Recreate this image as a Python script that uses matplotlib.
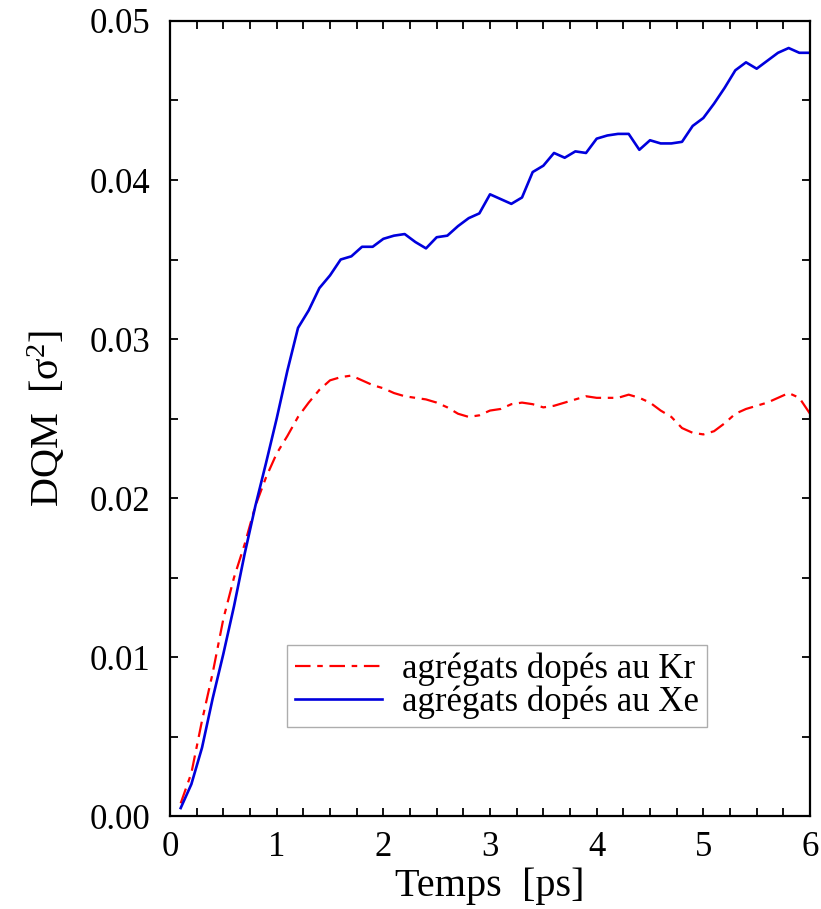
import matplotlib
matplotlib.use("Agg")
import matplotlib.pyplot as plt
from matplotlib.ticker import MultipleLocator

plt.rcParams["font.family"] = ["Liberation Serif", "DejaVu Serif"]
plt.rcParams["mathtext.fontset"] = "custom"
plt.rcParams["mathtext.rm"] = "Liberation Serif"
plt.rcParams["mathtext.it"] = "Liberation Serif:italic"

# time grid in ps
t = [round(0.1 * i, 1) for i in range(1, 61)]

dqm_kr = [
    0.0008, 0.0027, 0.0060, 0.0090, 0.0124, 0.0150, 0.0171, 0.0195, 0.0213, 0.0228,
    0.0239, 0.0251, 0.0260, 0.0268, 0.0274, 0.0276, 0.0277, 0.0274, 0.0271, 0.0269,
    0.0266, 0.0264, 0.0263, 0.0262, 0.0260, 0.0257, 0.0253, 0.0251, 0.0252, 0.0255,
    0.0256, 0.0259, 0.0260, 0.0259, 0.0257, 0.0258, 0.0260, 0.0262, 0.0264, 0.0263,
    0.0263, 0.0263, 0.0265, 0.0263, 0.0260, 0.0255, 0.0251, 0.0244, 0.0241, 0.0240,
    0.0242, 0.0247, 0.0253, 0.0256, 0.0258, 0.0260, 0.0263, 0.0266, 0.0263, 0.0253,
]

dqm_xe = [
    0.0005, 0.0020, 0.0043, 0.0074, 0.0102, 0.0132, 0.0165, 0.0195, 0.0222, 0.0250,
    0.0280, 0.0307, 0.0318, 0.0332, 0.0340, 0.0350, 0.0352, 0.0358, 0.0358, 0.0363,
    0.0365, 0.0366, 0.0361, 0.0357, 0.0364, 0.0365, 0.0371, 0.0376, 0.0379, 0.0391,
    0.0388, 0.0385, 0.0389, 0.0405, 0.0409, 0.0417, 0.0414, 0.0418, 0.0417, 0.0426,
    0.0428, 0.0429, 0.0429, 0.0419, 0.0425, 0.0423, 0.0423, 0.0424, 0.0434, 0.0439,
    0.0448, 0.0458, 0.0469, 0.0474, 0.0470, 0.0475, 0.0480, 0.0483, 0.0480, 0.0480,
]

labels = ["agrégats dopés au Kr", "agrégats dopés au Xe"]

fig = plt.figure(figsize=(8.21, 9.09), dpi=100)
ax = fig.add_axes([0.2071, 0.1023, 0.7795, 0.8746])

ax.plot(t, dqm_kr, color="red", lw=1.6, dashes=(7, 3, 2.5, 3), label=labels[0])
ax.plot(t, dqm_xe, color="#0000dd", lw=1.9, label=labels[1])

ax.set_xlim(0, 6)
ax.set_ylim(0, 0.05)
ax.xaxis.set_major_locator(MultipleLocator(1))
ax.xaxis.set_minor_locator(MultipleLocator(0.25))
ax.yaxis.set_major_locator(MultipleLocator(0.01))
ax.yaxis.set_minor_locator(MultipleLocator(0.005))
ax.yaxis.set_major_formatter(plt.FormatStrFormatter("%.2f"))

ax.tick_params(which="both", direction="in", top=True, right=True,
               length=6, width=1.3, labelsize=25)
ax.tick_params(axis="x", pad=11)
ax.tick_params(axis="y", pad=14)
for s in ax.spines.values():
    s.set_linewidth(1.6)

ax.set_xlabel("Temps  [ps]", fontsize=29, labelpad=2)
ax.set_ylabel("DQM  [σ$^{2}$]", fontsize=29, labelpad=16)

leg = ax.legend(loc="lower left", bbox_to_anchor=(0.183, 0.112), fontsize=25,
                borderaxespad=0, frameon=True, fancybox=False, handlelength=2.5,
                borderpad=0.22, labelspacing=0.0, handletextpad=0.6)
leg.get_frame().set_edgecolor("#999999")
leg.get_frame().set_linewidth(1.0)

fig.savefig("out.png", dpi=100)
